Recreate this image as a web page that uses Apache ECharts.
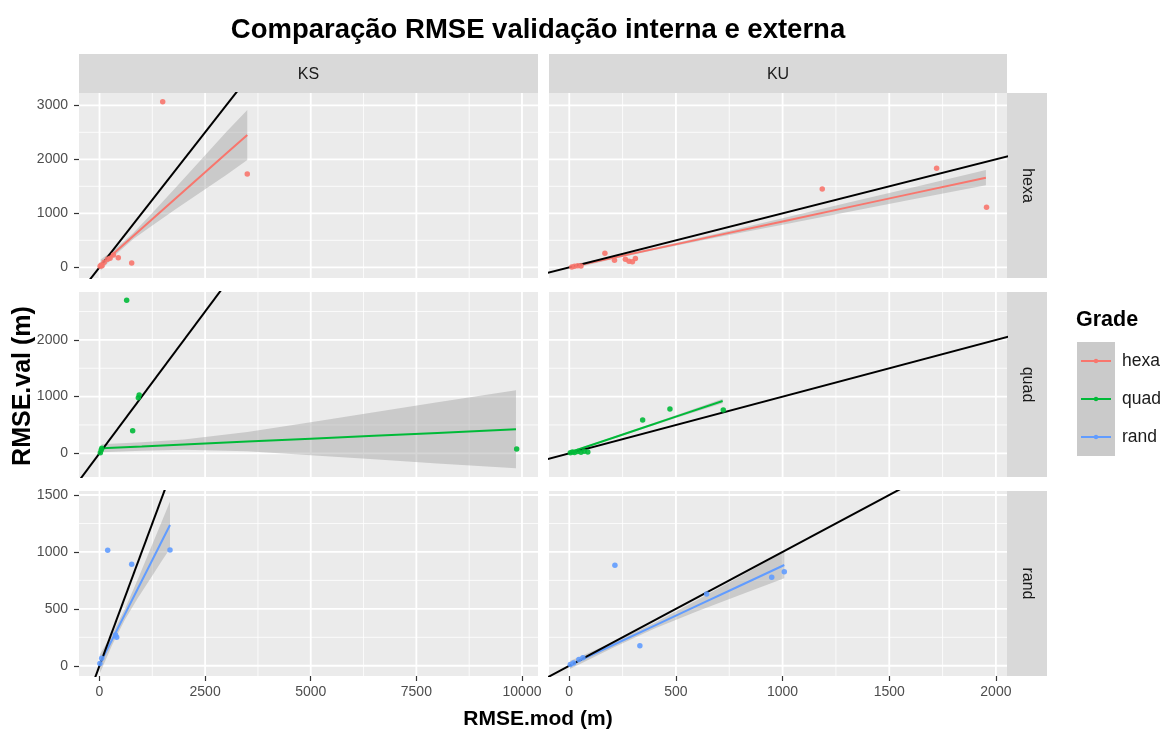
<!DOCTYPE html>
<html><head><meta charset="utf-8">
<script src="https://cdn.jsdelivr.net/npm/echarts@6/dist/echarts.min.js"></script>
<style>html,body{margin:0;padding:0;background:#fff}#c{width:1167px;height:733px}</style>
</head><body><div id="c"></div>
<script>
const FONT = "'Liberation Sans', Arial, sans-serif";
const cols = ['KS', 'KU'];
const rows = ['hexa', 'quad', 'rand'];
const grades = ['hexa', 'quad', 'rand'];
const gradeColors = { hexa: '#F8766D', quad: '#00BA38', rand: '#619CFF' };

// ---- axis ticks (major labels + minor grid) ----
const ksXTicks = [0, 2500, 5000, 7500, 10000];
const ksXMinor = [1250, 3750, 6250, 8750];
const kuXTicks = [0, 500, 1000, 1500, 2000];
const kuXMinor = [250, 750, 1250, 1750];
const hexaYTicks = [0, 1000, 2000, 3000];
const hexaYMinor = [500, 1500, 2500];
const quadYTicks = [0, 1000, 2000];
const quadYMinor = [500, 1500, 2500];
const randYTicks = [0, 500, 1000, 1500];
const randYMinor = [250, 750, 1250];

// ---- axis ranges (ggplot expanded ranges, free scales) ----
const ksXRange = [-485, 10379];
const kuXRange = [-95, 2052];
const hexaYRange = [-198, 3228];
const quadYRange = [-418, 2845];
const randYRange = [-90, 1535];

// 1:1 reference line extent
const identityExtent = [-2000, 12000];

// ---- points ----
const ksHexaX = [15, 40, 60, 110, 190, 250, 330, 445, 762, 1496, 3498];
const ksHexaY = [20, 45, 30, 95, 150, 170, 230, 178, 80, 3067, 1728];
const kuHexaX = [12, 25, 40, 55, 167, 212, 263, 280, 296, 310, 1186, 1722, 1956];
const kuHexaY = [8, 20, 30, 25, 259, 130, 150, 110, 105, 165, 1450, 1833, 1111];
const ksQuadX = [20, 40, 55, 643, 785, 920, 940, 9874];
const ksQuadY = [10, 60, 90, 2698, 399, 980, 1030, 76];
const kuQuadX = [5, 15, 25, 40, 55, 70, 87, 344, 472, 722];
const kuQuadY = [10, 25, 15, 30, 20, 35, 25, 587, 781, 764];
const ksRandX = [10, 52, 194, 380, 407, 762, 1669];
const ksRandY = [20, 65, 1014, 270, 250, 891, 1016];
const kuRandX = [5, 20, 45, 64, 214, 331, 644, 949, 1008];
const kuRandY = [10, 25, 55, 70, 882, 176, 630, 777, 826];

// ---- smooth (lm) lines and confidence bands ----
const ksHexaBandX = [28, 400, 800, 1200, 1800, 2500, 3000, 3498];
const ksHexaFit   = [43, 301, 579, 856, 1273, 1759, 2106, 2451];
const ksHexaUpper = [143, 356, 634, 964, 1473, 2074, 2504, 2914];
const ksHexaLower = [-57, 246, 524, 748, 1073, 1444, 1708, 1988];

const kuHexaBandX = [11, 200, 400, 700, 1000, 1300, 1600, 1953];
const kuHexaFit   = [11, 171, 341, 596, 850, 1105, 1360, 1659];
const kuHexaUpper = [47, 195, 361, 632, 910, 1190, 1471, 1800];
const kuHexaLower = [-25, 147, 321, 560, 790, 1020, 1249, 1518];

const ksQuadBandX = [52, 1000, 2000, 3500, 5000, 6500, 8000, 9858];
const ksQuadFit   = [88, 120, 154, 206, 257, 308, 360, 423];
const ksQuadUpper = [158, 195, 244, 376, 547, 723, 900, 1111];
const ksQuadLower = [18, 45, 64, 36, -33, -107, -180, -265];

const kuQuadBandX = [3, 150, 300, 500, 719];
const kuQuadFit   = [18, 204, 393, 646, 922];
const kuQuadUpper = [36, 218, 409, 671, 960];
const kuQuadLower = [0, 190, 377, 621, 884];

const ksRandBandX = [7, 300, 600, 900, 1200, 1450, 1669];
const ksRandFit   = [15, 230, 451, 672, 892, 1076, 1237];
const ksRandUpper = [99, 277, 498, 753, 1021, 1246, 1443];
const ksRandLower = [-69, 183, 404, 591, 763, 906, 1031];

const kuRandBandX = [3, 200, 400, 600, 800, 1008];
const kuRandFit   = [6, 178, 353, 528, 703, 885];
const kuRandUpper = [41, 203, 378, 578, 785, 1002];
const kuRandLower = [-29, 153, 328, 478, 621, 768];

// ---- assemble panels ----
const colAxis = {
  KS: { range: ksXRange, ticks: ksXTicks, minor: ksXMinor },
  KU: { range: kuXRange, ticks: kuXTicks, minor: kuXMinor }
};
const rowAxis = {
  hexa: { range: hexaYRange, ticks: hexaYTicks, minor: hexaYMinor },
  quad: { range: quadYRange, ticks: quadYTicks, minor: quadYMinor },
  rand: { range: randYRange, ticks: randYTicks, minor: randYMinor }
};
const panelData = {
  KS: {
    hexa: { x: ksHexaX, y: ksHexaY, bx: ksHexaBandX, fit: ksHexaFit, up: ksHexaUpper, lo: ksHexaLower },
    quad: { x: ksQuadX, y: ksQuadY, bx: ksQuadBandX, fit: ksQuadFit, up: ksQuadUpper, lo: ksQuadLower },
    rand: { x: ksRandX, y: ksRandY, bx: ksRandBandX, fit: ksRandFit, up: ksRandUpper, lo: ksRandLower }
  },
  KU: {
    hexa: { x: kuHexaX, y: kuHexaY, bx: kuHexaBandX, fit: kuHexaFit, up: kuHexaUpper, lo: kuHexaLower },
    quad: { x: kuQuadX, y: kuQuadY, bx: kuQuadBandX, fit: kuQuadFit, up: kuQuadUpper, lo: kuQuadLower },
    rand: { x: kuRandX, y: kuRandY, bx: kuRandBandX, fit: kuRandFit, up: kuRandUpper, lo: kuRandLower }
  }
};

// layout
const colLeft = [79, 549];
const colWidth = [459, 458];
const rowTop = [93, 292, 491];
const rowHeight = 185;

const grids = [], xAxes = [], yAxes = [], series = [];
let gi = 0;
rows.forEach((r, ri) => {
  cols.forEach((c, ci) => {
    const xa = colAxis[c], ya = rowAxis[r], d = panelData[c][r];
    const color = gradeColors[r];
    grids.push({ left: colLeft[ci], top: rowTop[ri], width: colWidth[ci], height: rowHeight,
      show: true, backgroundColor: '#EBEBEB', borderWidth: 0 });
    const bottom = ri === rows.length - 1, left = ci === 0;
    xAxes.push({ gridIndex: gi, type: 'value', position: 'bottom', min: xa.range[0], max: xa.range[1],
      axisLine: { show: false, onZero: false }, splitLine: { show: false },
      axisTick: { show: bottom, length: 5, customValues: xa.ticks, lineStyle: { color: '#333333', width: 1.2 } },
      axisLabel: { show: bottom, customValues: xa.ticks, margin: 9, color: '#4D4D4D', fontSize: 14,
        fontFamily: FONT, formatter: v => String(v) } });
    yAxes.push({ gridIndex: gi, type: 'value', position: 'left', min: ya.range[0], max: ya.range[1],
      axisLine: { show: false, onZero: false }, splitLine: { show: false },
      axisTick: { show: left, length: 5, customValues: ya.ticks, lineStyle: { color: '#333333', width: 1.2 } },
      axisLabel: { show: left, customValues: ya.ticks, margin: 11, color: '#4D4D4D', fontSize: 14,
        fontFamily: FONT, formatter: v => String(v) } });

    // grid lines
    const g = gi;
    series.push({ type: 'custom', xAxisIndex: g, yAxisIndex: g, z: 1, silent: true, clip: true,
      data: [[xa.ticks[0], ya.ticks[0]]],
      renderItem: (params, api) => {
        const children = [];
        const add = (p1, p2, w) => children.push({ type: 'line',
          shape: { x1: p1[0], y1: p1[1], x2: p2[0], y2: p2[1] },
          style: { stroke: '#FFFFFF', lineWidth: w } });
        xa.minor.forEach(v => add(api.coord([v, ya.range[0]]), api.coord([v, ya.range[1]]), 0.8));
        ya.minor.forEach(v => add(api.coord([xa.range[0], v]), api.coord([xa.range[1], v]), 0.8));
        xa.ticks.forEach(v => add(api.coord([v, ya.range[0]]), api.coord([v, ya.range[1]]), 1.8));
        ya.ticks.forEach(v => add(api.coord([xa.range[0], v]), api.coord([xa.range[1], v]), 1.8));
        return { type: 'group', children };
      } });

    // confidence ribbon
    series.push({ type: 'custom', xAxisIndex: g, yAxisIndex: g, z: 2, silent: true, clip: true,
      data: [[d.bx[0], d.fit[0]]],
      renderItem: (params, api) => {
        const pts = [];
        for (let i = 0; i < d.bx.length; i++) pts.push(api.coord([d.bx[i], d.up[i]]));
        for (let i = d.bx.length - 1; i >= 0; i--) pts.push(api.coord([d.bx[i], d.lo[i]]));
        return { type: 'polygon', shape: { points: pts }, style: { fill: 'rgba(153,153,153,0.4)' } };
      } });

    // regression line
    series.push({ type: 'line', xAxisIndex: g, yAxisIndex: g, z: 3, silent: true, showSymbol: false,
      data: d.bx.map((v, i) => [v, d.fit[i]]), lineStyle: { color: color, width: 2 }, clip: true });

    // 1:1 line
    series.push({ type: 'line', xAxisIndex: g, yAxisIndex: g, z: 4, silent: true, showSymbol: false,
      data: identityExtent.map(v => [v, v]), lineStyle: { color: '#000000', width: 2 }, clip: true });

    // points
    series.push({ type: 'scatter', xAxisIndex: g, yAxisIndex: g, z: 5, silent: true,
      symbolSize: 5.5, itemStyle: { color: color, opacity: 0.9 },
      data: d.x.map((v, i) => [v, d.y[i]]) });
    gi++;
  });
});

// ---- decorations: strips, titles, legend ----
const graphic = [];
graphic.push({ type: 'text', style: { text: 'Comparação RMSE validação interna e externa',
  x: 538, y: 30, align: 'center', verticalAlign: 'middle', font: 'bold 27.5px ' + FONT, fill: '#000' } });
cols.forEach((c, ci) => {
  graphic.push({ type: 'rect', shape: { x: colLeft[ci], y: 54, width: colWidth[ci], height: 39 }, style: { fill: '#D9D9D9' } });
  graphic.push({ type: 'text', style: { text: c, x: colLeft[ci] + colWidth[ci] / 2, y: 75, align: 'center',
    verticalAlign: 'middle', font: '16px ' + FONT, fill: '#1A1A1A' } });
});
rows.forEach((r, ri) => {
  graphic.push({ type: 'rect', shape: { x: 1007, y: rowTop[ri], width: 40, height: rowHeight }, style: { fill: '#D9D9D9' } });
  graphic.push({ type: 'text', x: 1027, y: rowTop[ri] + rowHeight / 2, rotation: -Math.PI / 2,
    style: { text: r, x: 0, y: 0, align: 'center', verticalAlign: 'middle', font: '16px ' + FONT, fill: '#1A1A1A' } });
});
graphic.push({ type: 'text', style: { text: 'RMSE.mod (m)', x: 538, y: 719, align: 'center', verticalAlign: 'middle',
  font: 'bold 21px ' + FONT, fill: '#000' } });
graphic.push({ type: 'text', x: 23, y: 386, rotation: Math.PI / 2,
  style: { text: 'RMSE.val (m)', x: 0, y: 0, align: 'center', verticalAlign: 'middle', font: 'bold 25px ' + FONT, fill: '#000' } });
// legend
graphic.push({ type: 'text', style: { text: 'Grade', x: 1076, y: 320, align: 'left', verticalAlign: 'middle',
  font: 'bold 21.5px ' + FONT, fill: '#000' } });
grades.forEach((gname, i) => {
  const cy = 361 + i * 38;
  graphic.push({ type: 'rect', shape: { x: 1077, y: cy - 19, width: 38, height: 38 }, style: { fill: '#EBEBEB' } });
  graphic.push({ type: 'rect', shape: { x: 1077, y: cy - 19, width: 38, height: 38 }, style: { fill: 'rgba(153,153,153,0.4)' } });
  graphic.push({ type: 'line', shape: { x1: 1081, y1: cy, x2: 1111, y2: cy }, style: { stroke: gradeColors[gname], lineWidth: 2 } });
  graphic.push({ type: 'circle', shape: { cx: 1096, cy: cy, r: 2.2 }, style: { fill: gradeColors[gname] } });
  graphic.push({ type: 'text', style: { text: gname, x: 1122, y: cy, align: 'left', verticalAlign: 'middle',
    font: '17.5px ' + FONT, fill: '#1A1A1A' } });
});

const chart = echarts.init(document.getElementById('c'), null, { renderer: 'canvas' });
chart.setOption({
  animation: false,
  backgroundColor: '#FFFFFF',
  grid: grids, xAxis: xAxes, yAxis: yAxes, series: series, graphic: graphic
});
</script></body></html>
